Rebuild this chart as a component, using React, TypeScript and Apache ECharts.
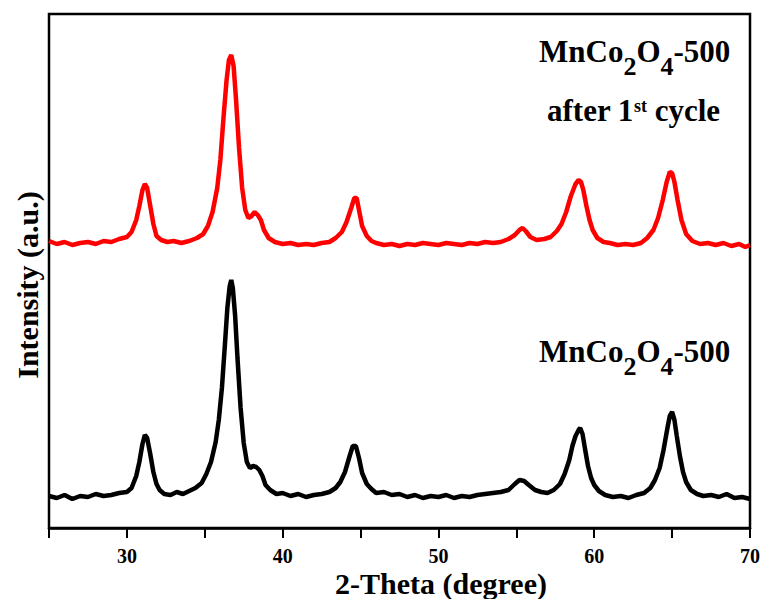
import React, { useEffect, useRef } from "react";
import * as echarts from "echarts";

// 2θ (degree) and intensity (a.u.)
const pristine: [number, number][] = [
  [25.0, 32], [25.5, 30], [26.0, 33], [26.5, 29], [27.0, 32], [27.5, 31], [28.0, 34], [28.5, 32],
  [29.0, 33], [29.5, 35], [30.0, 36], [30.3, 40], [30.6, 52], [30.8, 66], [31.0, 84], [31.15, 93],
  [31.3, 90], [31.5, 74], [31.7, 56], [31.9, 44], [32.1, 38], [32.4, 34], [32.8, 33], [33.2, 36],
  [33.6, 34], [34.0, 37], [34.4, 40], [34.8, 45], [35.1, 54], [35.4, 66], [35.7, 86], [35.9, 108],
  [36.1, 140], [36.3, 185], [36.45, 220], [36.6, 242], [36.7, 248], [36.8, 240], [36.95, 212],
  [37.1, 170], [37.3, 120], [37.5, 85], [37.7, 66], [37.9, 60], [38.1, 62], [38.3, 61], [38.5, 58],
  [38.7, 52], [38.9, 43], [39.2, 38], [39.6, 34], [40.0, 35], [40.5, 32], [41.0, 34], [41.5, 31],
  [42.0, 33], [42.5, 34], [43.0, 36], [43.4, 40], [43.7, 46], [44.0, 56], [44.3, 72], [44.5, 82],
  [44.7, 82], [44.9, 70], [45.1, 55], [45.4, 44], [45.7, 39], [46.0, 35], [46.5, 36], [47.0, 33],
  [47.5, 34], [48.0, 31], [48.5, 33], [49.0, 30], [49.5, 32], [50.0, 31], [50.5, 33], [51.0, 30],
  [51.5, 32], [52.0, 31], [52.5, 33], [53.0, 34], [53.5, 35], [54.0, 36], [54.5, 38], [54.9, 44],
  [55.2, 48], [55.5, 47], [55.8, 43], [56.2, 38], [56.6, 36], [57.0, 35], [57.4, 38], [57.8, 44],
  [58.1, 54], [58.4, 68], [58.6, 82], [58.8, 92], [59.0, 98], [59.1, 100], [59.25, 94], [59.4, 80],
  [59.6, 62], [59.8, 50], [60.0, 43], [60.3, 37], [60.7, 33], [61.2, 31], [61.7, 32], [62.2, 30],
  [62.7, 33], [63.2, 35], [63.6, 40], [63.9, 48], [64.2, 60], [64.45, 78], [64.7, 100], [64.85, 112],
  [65.0, 116], [65.15, 108], [65.3, 92], [65.5, 72], [65.7, 56], [65.9, 46], [66.2, 38], [66.6, 34],
  [67.0, 32], [67.5, 33], [68.0, 31], [68.5, 34], [69.0, 30], [69.5, 31], [70.0, 29],
];

const afterCycle: [number, number][] = [
  [25.0, 287], [25.5, 284], [26.0, 286], [26.5, 283], [27.0, 285], [27.5, 286], [28.0, 284],
  [28.5, 287], [29.0, 286], [29.5, 289], [30.0, 291], [30.3, 296], [30.6, 308], [30.8, 322],
  [31.0, 338], [31.15, 344], [31.3, 340], [31.5, 322], [31.7, 304], [31.9, 292], [32.2, 288],
  [32.6, 286], [33.0, 287], [33.5, 285], [34.0, 287], [34.5, 290], [34.9, 294], [35.2, 302],
  [35.5, 316], [35.8, 340], [36.0, 368], [36.2, 410], [36.4, 448], [36.55, 468], [36.7, 473],
  [36.85, 462], [37.0, 430], [37.2, 380], [37.4, 340], [37.6, 318], [37.8, 310], [38.0, 312],
  [38.2, 316], [38.4, 313], [38.6, 308], [38.8, 298], [39.1, 290], [39.5, 286], [40.0, 284],
  [40.5, 285], [41.0, 283], [41.5, 284], [42.0, 283], [42.5, 285], [43.0, 286], [43.4, 290],
  [43.8, 296], [44.1, 306], [44.4, 320], [44.6, 330], [44.75, 330], [44.9, 318], [45.1, 302],
  [45.4, 292], [45.7, 287], [46.0, 285], [46.5, 283], [47.0, 284], [47.5, 282], [48.0, 284],
  [48.5, 283], [49.0, 285], [49.5, 284], [50.0, 283], [50.5, 285], [51.0, 284], [51.5, 283],
  [52.0, 285], [52.5, 284], [53.0, 286], [53.5, 285], [54.0, 286], [54.5, 289], [54.9, 293],
  [55.2, 298], [55.4, 300], [55.6, 297], [55.9, 291], [56.3, 288], [56.8, 289], [57.2, 291],
  [57.6, 297], [57.9, 304], [58.2, 316], [58.5, 332], [58.8, 344], [59.0, 348], [59.15, 346],
  [59.3, 338], [59.5, 322], [59.7, 308], [59.9, 298], [60.2, 290], [60.6, 286], [61.0, 285],
  [61.5, 283], [62.0, 284], [62.5, 283], [63.0, 285], [63.4, 290], [63.8, 298], [64.1, 310],
  [64.4, 328], [64.65, 346], [64.85, 356], [65.0, 355], [65.15, 346], [65.35, 328], [65.6, 308],
  [65.9, 294], [66.3, 287], [66.8, 284], [67.3, 285], [67.8, 283], [68.3, 285], [68.8, 282],
  [69.3, 284], [69.7, 281], [70.0, 283],
];

const xTitle = "2-Theta (degree)";
const yTitle = "Intensity (a.u.)";

// label pieces: text, font size, baseline shift (sub/superscript)
const sampleLabel: [string, number, number][] = [
  ["MnCo", 31, 0], ["2", 26, 13], ["O", 31, 0], ["4", 26, 13], ["-500", 31, 0],
];
const cycleLabel: [string, number, number][] = [
  ["after 1", 31, 0], ["st", 18, -9], [" cycle", 31, 0],
];

const FONT = "'Liberation Serif', 'Times New Roman', serif";

function buildLabel(parts: [string, number, number][], x0: number, baseline: number) {
  const ctx = document.createElement("canvas").getContext("2d")!;
  let x = x0;
  const out: any[] = [];
  for (const [t, size, dy] of parts) {
    const font = `bold ${size}px ${FONT}`;
    out.push({
      type: "text",
      x,
      y: baseline + dy - 0.34 * size,
      style: { text: t, font, fill: "#000", align: "left", verticalAlign: "middle" },
    });
    ctx.font = font;
    x += ctx.measureText(t).width;
  }
  return out;
}

export default function App() {
  const ref = useRef<HTMLDivElement>(null);
  useEffect(() => {
    if (!ref.current) return;
    const chart = echarts.init(ref.current, null, { renderer: "svg" });
    chart.setOption({
      animation: false,
      backgroundColor: "#fff",
      grid: { left: 49, right: 14, top: 14, bottom: 71, show: true, borderColor: "#000", borderWidth: 2.5, backgroundColor: "transparent" },
      xAxis: {
        type: "value",
        min: 25,
        max: 70,
        interval: 5,
        axisLine: { show: true, lineStyle: { color: "#000", width: 2.5 } },
        axisTick: { show: true, inside: false, length: 10, lineStyle: { color: "#000", width: 2 } },
        axisLabel: {
          margin: 18,
          fontSize: 20,
          fontWeight: "bold",
          fontFamily: FONT,
          color: "#000",
          formatter: (v: number) => (v % 10 === 0 ? String(v) : ""),
        },
        splitLine: { show: false },
      },
      yAxis: {
        type: "value",
        min: 0,
        max: 514,
        axisLine: { show: false },
        axisTick: { show: false },
        axisLabel: { show: false },
        splitLine: { show: false },
      },
      series: [
        {
          name: "MnCo2O4-500",
          type: "line",
          data: pristine,
          showSymbol: false,
          lineStyle: { color: "#000", width: 4.5 },
          z: 3,
        },
        {
          name: "MnCo2O4-500 after 1st cycle",
          type: "line",
          data: afterCycle,
          showSymbol: false,
          lineStyle: { color: "#ff0000", width: 4.5 },
          z: 3,
        },
      ],
      graphic: [
        {
          type: "text",
          x: 441,
          y: 583,
          style: { text: xTitle, font: `bold 30px ${FONT}`, lineHeight: 24, fill: "#000", align: "center", verticalAlign: "middle" },
        },
        {
          type: "text",
          x: 27,
          y: 285,
          rotation: Math.PI / 2,
          style: { text: yTitle, font: `bold 30px ${FONT}`, fill: "#000", align: "center", verticalAlign: "middle" },
        },
        ...buildLabel(sampleLabel, 539, 62),
        ...buildLabel(cycleLabel, 547, 121),
        ...buildLabel(sampleLabel, 539, 362),
      ],
    });
    return () => chart.dispose();
  }, []);
  return <div ref={ref} style={{ position: "absolute", left: 0, top: 0, width: 764, height: 599 }} />;
}
